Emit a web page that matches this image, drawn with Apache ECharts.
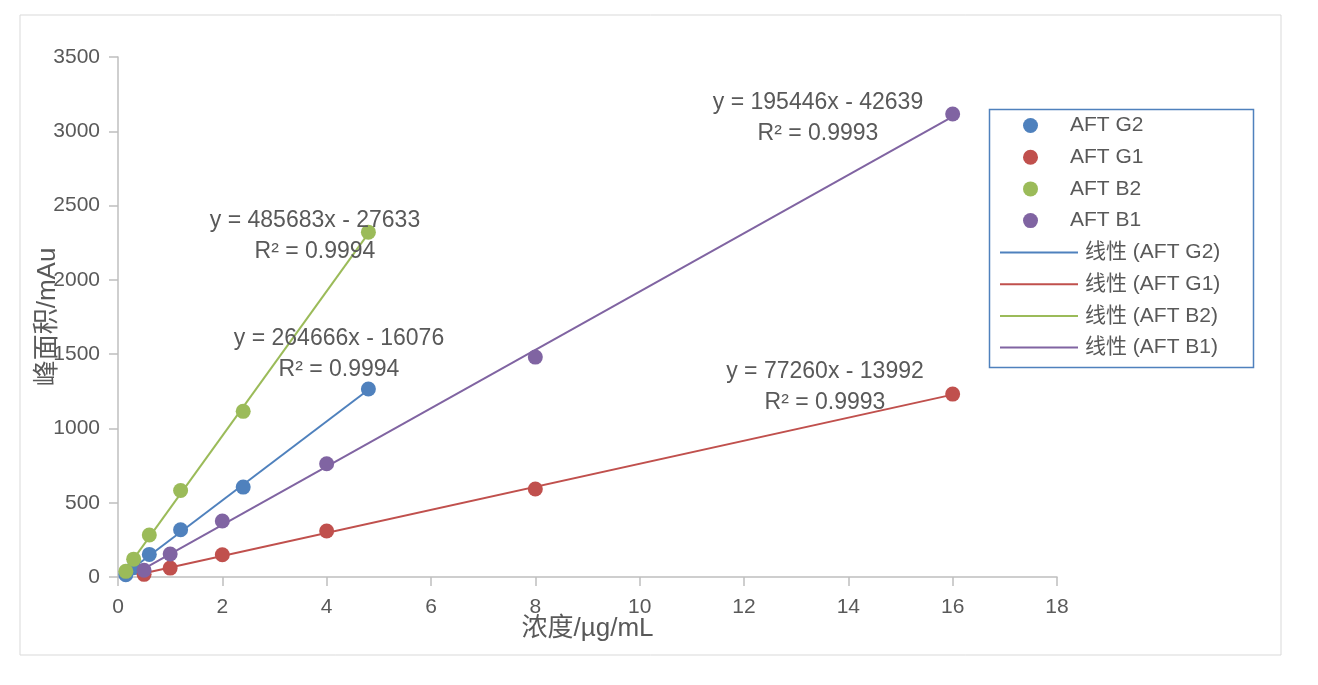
<!DOCTYPE html>
<html>
<head>
<meta charset="utf-8">
<title>AFT 标准曲线</title>
<script src="https://cdn.jsdelivr.net/npm/echarts@6/dist/echarts.min.js"></script>
<style>
  html, body { margin: 0; padding: 0; background: #fff; }
  #chart { width: 1318px; height: 685px; }
</style>
</head>
<body>
<div id="chart"></div>
<script>
// 浓度 (µg/mL)
var concG2B2 = [0.15, 0.3, 0.6, 1.2, 2.4, 4.8];
var concG1B1 = [0.5, 1, 2, 4, 8, 16];

// 峰面积 (mAu)
var areaG2 = [15, 62, 152, 318, 605, 1265];
var areaG1 = [18, 60, 150, 310, 592, 1231];
var areaB2 = [38, 120, 283, 582, 1115, 2321];
var areaB1 = [45, 155, 377, 762, 1480, 3116];

var seriesNames = ['AFT G2', 'AFT G1', 'AFT B2', 'AFT B1'];
var colors = ['#4F81BD', '#C0504D', '#9BBB59', '#8064A2'];

// 趋势线公式文字
var equations = [
    'y = 264666x - 16076\nR² = 0.9994',
    'y = 77260x - 13992\nR² = 0.9993',
    'y = 485683x - 27633\nR² = 0.9994',
    'y = 195446x - 42639\nR² = 0.9993'
];

var xTicks = { min: 0, max: 18, interval: 2 };
var yTicks = { min: 0, max: 3500, interval: 500 };

var FONT = '"Liberation Sans", "Noto Sans CJK SC", sans-serif';
var TEXT_COLOR = '#595959';

function pairs(xs, ys) {
    return xs.map(function (x, i) { return [x, ys[i]]; });
}

// 最小二乘线性拟合, 画从最小到最大浓度
function fitLine(xs, ys) {
    var n = xs.length, sx = 0, sy = 0, sxx = 0, sxy = 0;
    for (var i = 0; i < n; i++) {
        sx += xs[i]; sy += ys[i];
        sxx += xs[i] * xs[i]; sxy += xs[i] * ys[i];
    }
    var k = (n * sxy - sx * sy) / (n * sxx - sx * sx);
    var b = (sy - k * sx) / n;
    var x0 = Math.min.apply(null, xs), x1 = Math.max.apply(null, xs);
    return [[x0, k * x0 + b], [x1, k * x1 + b]];
}

var groups = [
    { x: concG2B2, y: areaG2 },
    { x: concG1B1, y: areaG1 },
    { x: concG2B2, y: areaB2 },
    { x: concG1B1, y: areaB1 }
];

var series = [];
groups.forEach(function (g, i) {
    series.push({
        name: seriesNames[i],
        type: 'scatter',
        symbol: 'circle',
        symbolSize: 15,
        itemStyle: { color: colors[i], opacity: 1 },
        data: pairs(g.x, g.y),
        z: 3
    });
});
groups.forEach(function (g, i) {
    series.push({
        name: '线性 (' + seriesNames[i] + ')',
        type: 'line',
        symbol: 'none',
        lineStyle: { color: colors[i], width: 2 },
        itemStyle: { color: colors[i] },
        data: fitLine(g.x, g.y),
        z: 2
    });
});

// 公式文字的位置 (像素)
var eqPos = [[339, 354], [825, 387], [315, 236], [818, 118]];

var graphics = [{
    type: 'rect',
    shape: { x: 20, y: 15, width: 1261, height: 640 },
    style: { fill: 'none', stroke: '#d9d9d9', lineWidth: 1 },
    silent: true
}, {
    type: 'rect',
    shape: { x: 989.5, y: 109.5, width: 264, height: 258 },
    style: { fill: '#fff', stroke: '#4F81BD', lineWidth: 1.5 },
    z: 0,
    silent: true
}];
equations.forEach(function (t, i) {
    graphics.push({
        type: 'text',
        x: eqPos[i][0],
        y: eqPos[i][1],
        z: 10,
        style: {
            text: t,
            fill: TEXT_COLOR,
            font: '23px ' + FONT,
            align: 'center',
            verticalAlign: 'middle',
            lineHeight: 31
        }
    });
});

var chart = echarts.init(document.getElementById('chart'));
chart.setOption({
    animation: false,
    backgroundColor: '#fff',
    textStyle: { fontFamily: FONT },
    grid: { left: 118, right: 261, top: 57, bottom: 108 },
    legend: [{
        data: seriesNames.map(function (n) { return { name: n, icon: 'circle' }; }),
        orient: 'vertical',
        left: 1023,
        top: 115,
        padding: 0,
        itemWidth: 15,
        itemHeight: 15,
        itemGap: 10.7,
        textStyle: { color: TEXT_COLOR, fontSize: 21, lineHeight: 20, fontFamily: FONT, padding: [0, 0, 0, 27] }
    }, {
        data: seriesNames.map(function (n) { return { name: '线性 (' + n + ')', icon: 'rect' }; }),
        orient: 'vertical',
        left: 1000,
        top: 242,
        padding: 0,
        itemWidth: 78,
        itemHeight: 2,
        itemGap: 10.7,
        textStyle: { color: TEXT_COLOR, fontSize: 21, lineHeight: 20, fontFamily: FONT, padding: [0, 0, 0, 2] }
    }],
    xAxis: {
        type: 'value',
        min: xTicks.min,
        max: xTicks.max,
        interval: xTicks.interval,
        name: '浓度/µg/mL',
        nameLocation: 'middle',
        nameGap: 39,
        nameMoveOverlap: false,
        nameTextStyle: { color: TEXT_COLOR, fontSize: 26, fontFamily: FONT },
        axisLine: { lineStyle: { color: '#bfbfbf', width: 1.5 } },
        axisTick: { show: true, length: 9, lineStyle: { color: '#bfbfbf', width: 1.5 } },
        axisLabel: { color: TEXT_COLOR, fontSize: 21, margin: 20 },
        splitLine: { show: false }
    },
    yAxis: {
        type: 'value',
        min: yTicks.min,
        max: yTicks.max,
        interval: yTicks.interval,
        name: '峰面积/mAu',
        nameLocation: 'middle',
        nameRotate: 90,
        nameGap: 57,
        nameMoveOverlap: false,
        nameTextStyle: { color: TEXT_COLOR, fontSize: 26, fontFamily: FONT },
        axisLine: { show: true, lineStyle: { color: '#bfbfbf', width: 1.5 } },
        axisTick: { show: true, length: 9, lineStyle: { color: '#bfbfbf', width: 1.5 } },
        axisLabel: {
            color: TEXT_COLOR,
            fontSize: 21,
            margin: 18,
            formatter: function (v) { return String(v); }
        },
        splitLine: { show: false }
    },
    graphic: graphics,
    series: series
});
</script>
</body>
</html>
